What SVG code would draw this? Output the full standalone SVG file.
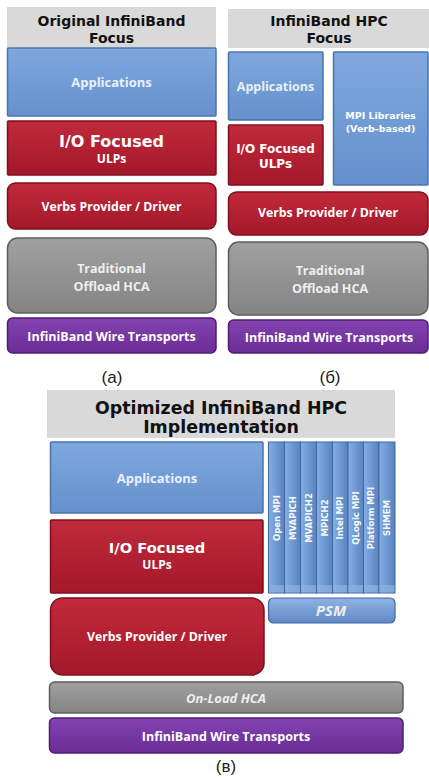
<svg xmlns="http://www.w3.org/2000/svg" width="429" height="778" viewBox="0 0 429 778">
<defs>
<linearGradient id="gBlue" x1="0" y1="0" x2="0" y2="1"><stop offset="0" stop-color="#7ea8de"/><stop offset="1" stop-color="#6690cc"/></linearGradient>
<linearGradient id="gRed" x1="0" y1="0" x2="0" y2="1"><stop offset="0" stop-color="#c12a3b"/><stop offset="1" stop-color="#a3182a"/></linearGradient>
<linearGradient id="gGrey" x1="0" y1="0" x2="0" y2="1"><stop offset="0" stop-color="#a0a0a0"/><stop offset="1" stop-color="#848484"/></linearGradient>
<linearGradient id="gPurple" x1="0" y1="0" x2="0" y2="1"><stop offset="0" stop-color="#8443b0"/><stop offset="1" stop-color="#6a2c97"/></linearGradient>
<linearGradient id="gBar" x1="0" y1="0" x2="1" y2="0"><stop offset="0" stop-color="#86aee2"/><stop offset="0.5" stop-color="#6f99d3"/><stop offset="1" stop-color="#5a82bd"/></linearGradient>
<linearGradient id="gPsm" x1="0" y1="0" x2="0" y2="1"><stop offset="0" stop-color="#8fb4e4"/><stop offset="1" stop-color="#5f88c4"/></linearGradient>
</defs>
<style>
.hdr{fill:#d9d9d9}
.blue{fill:url(#gBlue);stroke:#4a74ad;stroke-width:1.5}
.red{fill:url(#gRed);stroke:#7e1020;stroke-width:1.5}
.grey{fill:url(#gGrey);stroke:#5e5e5e;stroke-width:1.5}
.purple{fill:url(#gPurple);stroke:#4f1d74;stroke-width:1.5}
.bar{fill:url(#gBar);stroke:#3f67a3;stroke-width:1}
.psm{fill:url(#gPsm);stroke:#3f67a3;stroke-width:1.2}
text{text-anchor:middle}
.ht{font-family:"DejaVu Sans",Verdana,sans-serif;font-weight:bold;fill:#111}
.vt{font-family:"DejaVu Sans",Verdana,sans-serif;font-weight:bold;fill:#fff}
.st{font-family:"Open Sans","Liberation Sans",sans-serif;font-weight:bold;fill:#fff}
.at{font-family:"Open Sans","Liberation Sans",sans-serif;font-weight:bold;fill:#e8f0fb}
.gt{font-family:"Open Sans","Liberation Sans",sans-serif;font-weight:bold;fill:#eeeeee}
.it{font-family:"Open Sans","Liberation Sans",sans-serif;font-weight:bold;font-style:italic;fill:#eeeeee}
.lab{font-family:"Liberation Sans",Arial,sans-serif;font-size:17px;fill:#222}
.bt{font-family:"DejaVu Sans",Verdana,sans-serif;font-weight:bold;font-size:8.5px;fill:#f4f8fd}
</style>
<rect width="429" height="778" fill="#ffffff"/>

<g id="panel-a">
<g id="a-header"><rect class="hdr" x="7" y="7" width="209" height="41"/><text class="ht" x="111.5" y="26" font-size="14">Original InfiniBand</text><text class="ht" x="111.5" y="43" font-size="14">Focus</text></g>
<g id="a-applications"><rect class="blue" x="7.5" y="48" width="208.5" height="68" rx="1"/><text class="at" x="111.5" y="87" font-size="13">Applications</text></g>
<g id="a-io"><rect class="red" x="7.5" y="121" width="208.5" height="54" rx="1"/><text class="vt" x="111.5" y="147" font-size="16">I/O Focused</text><text class="st" x="111.5" y="163" font-size="12">ULPs</text></g>
<g id="a-verbs"><rect class="red" x="7.5" y="183" width="208.5" height="46" rx="8"/><text class="st" x="111.5" y="211" font-size="12.3">Verbs Provider / Driver</text></g>
<g id="a-hca"><rect class="grey" x="7.5" y="238" width="208.5" height="75" rx="10"/><text class="gt" x="111.5" y="273" font-size="12.5">Traditional</text><text class="gt" x="111.5" y="291" font-size="12.5">Offload HCA</text></g>
<g id="a-wire"><rect class="purple" x="7.5" y="318" width="208.5" height="35" rx="5"/><text class="st" x="111.5" y="341" font-size="12.5">InfiniBand Wire Transports</text></g>
<text class="lab" x="112" y="383">(a)</text>
</g>

<g id="panel-b">
<g id="b-header"><rect class="hdr" x="228" y="9" width="201" height="39"/><text class="ht" x="329" y="26" font-size="14">InfiniBand HPC</text><text class="ht" x="329" y="43" font-size="14">Focus</text></g>
<g id="b-applications"><rect class="blue" x="228.5" y="52" width="94.5" height="68" rx="1"/><text class="at" x="275.5" y="91" font-size="12.5">Applications</text></g>
<g id="b-mpi"><rect class="blue" x="333.5" y="52" width="94.5" height="133" rx="1"/><text class="vt" x="380.5" y="119" font-size="9.5" fill="#e8f0fb">MPI Libraries</text><text class="vt" x="380.5" y="132" font-size="9.5" fill="#e8f0fb">(Verb-based)</text></g>
<g id="b-io"><rect class="red" x="228.5" y="125" width="94.5" height="60" rx="1"/><text class="vt" x="275.5" y="153" font-size="12">I/O Focused</text><text class="vt" x="275.5" y="168" font-size="12">ULPs</text></g>
<g id="b-verbs"><rect class="red" x="228.5" y="192" width="199.5" height="43" rx="8"/><text class="st" x="328" y="217" font-size="12.3">Verbs Provider / Driver</text></g>
<g id="b-hca"><rect class="grey" x="228.5" y="242" width="199.5" height="73" rx="10"/><text class="gt" x="330" y="275" font-size="12.5">Traditional</text><text class="gt" x="330" y="293" font-size="12.5">Offload HCA</text></g>
<g id="b-wire"><rect class="purple" x="228.5" y="320" width="199.5" height="33" rx="5"/><text class="st" x="329" y="342" font-size="12.5">InfiniBand Wire Transports</text></g>
<text class="lab" x="330" y="383">(б)</text>
</g>

<g id="panel-c">
<g id="c-header"><rect class="hdr" x="47" y="390" width="348" height="48"/><text class="ht" x="221" y="414" font-size="17.4">Optimized InfiniBand HPC</text><text class="ht" x="221" y="433" font-size="17.4">Implementation</text></g>
<g id="c-applications"><rect class="blue" x="50.5" y="442" width="212.5" height="71" rx="1"/><text class="at" x="157" y="483" font-size="13">Applications</text></g>
<g id="c-io"><rect class="red" x="50.5" y="520" width="212.5" height="73" rx="1"/><text class="vt" x="157" y="553" font-size="14.7">I/O Focused</text><text class="st" x="157" y="569" font-size="12">ULPs</text></g>
<g id="c-verbs"><rect class="red" x="50.5" y="598" width="213.5" height="77" rx="12"/><text class="st" x="157" y="641" font-size="12.3">Verbs Provider / Driver</text></g>
<g id="c-mpi-stack">
<g id="c-openmpi"><rect class="bar" x="268.5" y="442" width="16" height="151"/><rect x="269" y="585" width="15" height="7.5" fill="#8fb2e0" opacity="0.7"/><text class="bt" transform="translate(279.5,518) rotate(-90)">Open MPI</text></g>
<g id="c-mvapich"><rect class="bar" x="284.5" y="442" width="16" height="151"/><rect x="285" y="585" width="15" height="7.5" fill="#8fb2e0" opacity="0.7"/><text class="bt" transform="translate(295.5,518) rotate(-90)">MVAPICH</text></g>
<g id="c-mvapich2"><rect class="bar" x="300.5" y="442" width="16" height="151"/><rect x="301" y="585" width="15" height="7.5" fill="#8fb2e0" opacity="0.7"/><text class="bt" transform="translate(311.5,518) rotate(-90)">MVAPICH2</text></g>
<g id="c-mpich2"><rect class="bar" x="316.5" y="442" width="16" height="151"/><rect x="317" y="585" width="15" height="7.5" fill="#8fb2e0" opacity="0.7"/><text class="bt" transform="translate(327.5,518) rotate(-90)">MPICH2</text></g>
<g id="c-intelmpi"><rect class="bar" x="332.5" y="442" width="15.5" height="151"/><rect x="333" y="585" width="14.5" height="7.5" fill="#8fb2e0" opacity="0.7"/><text class="bt" transform="translate(343.3,518) rotate(-90)">Intel MPI</text></g>
<g id="c-qlogicmpi"><rect class="bar" x="348" y="442" width="15.5" height="151"/><rect x="348.5" y="585" width="14.5" height="7.5" fill="#8fb2e0" opacity="0.7"/><text class="bt" transform="translate(358.8,518) rotate(-90)">QLogic MPI</text></g>
<g id="c-platformmpi"><rect class="bar" x="363.5" y="442" width="15.5" height="151"/><rect x="364" y="585" width="14.5" height="7.5" fill="#8fb2e0" opacity="0.7"/><text class="bt" transform="translate(374.3,518) rotate(-90)">Platform MPI</text></g>
<g id="c-shmem"><rect class="bar" x="379" y="442" width="16" height="151"/><rect x="379.5" y="585" width="15" height="7.5" fill="#8fb2e0" opacity="0.7"/><text class="bt" transform="translate(390,518) rotate(-90)">SHMEM</text></g>
</g>
<g id="c-psm"><rect class="psm" x="268.5" y="598" width="126.5" height="25" rx="5"/><text class="it" x="331" y="616" font-size="15" fill="#f4f8fd">PSM</text></g>
<g id="c-onload"><rect class="grey" x="49.5" y="682" width="353.5" height="31" rx="5"/><text class="it" x="226" y="703" font-size="13">On-Load HCA</text></g>
<g id="c-wire"><rect class="purple" x="49.5" y="718" width="353.5" height="35" rx="5"/><text class="st" x="226" y="741" font-size="12.5">InfiniBand Wire Transports</text></g>
<text class="lab" x="226" y="772">(в)</text>
</g>

<g id="connectors"></g>
</svg>
